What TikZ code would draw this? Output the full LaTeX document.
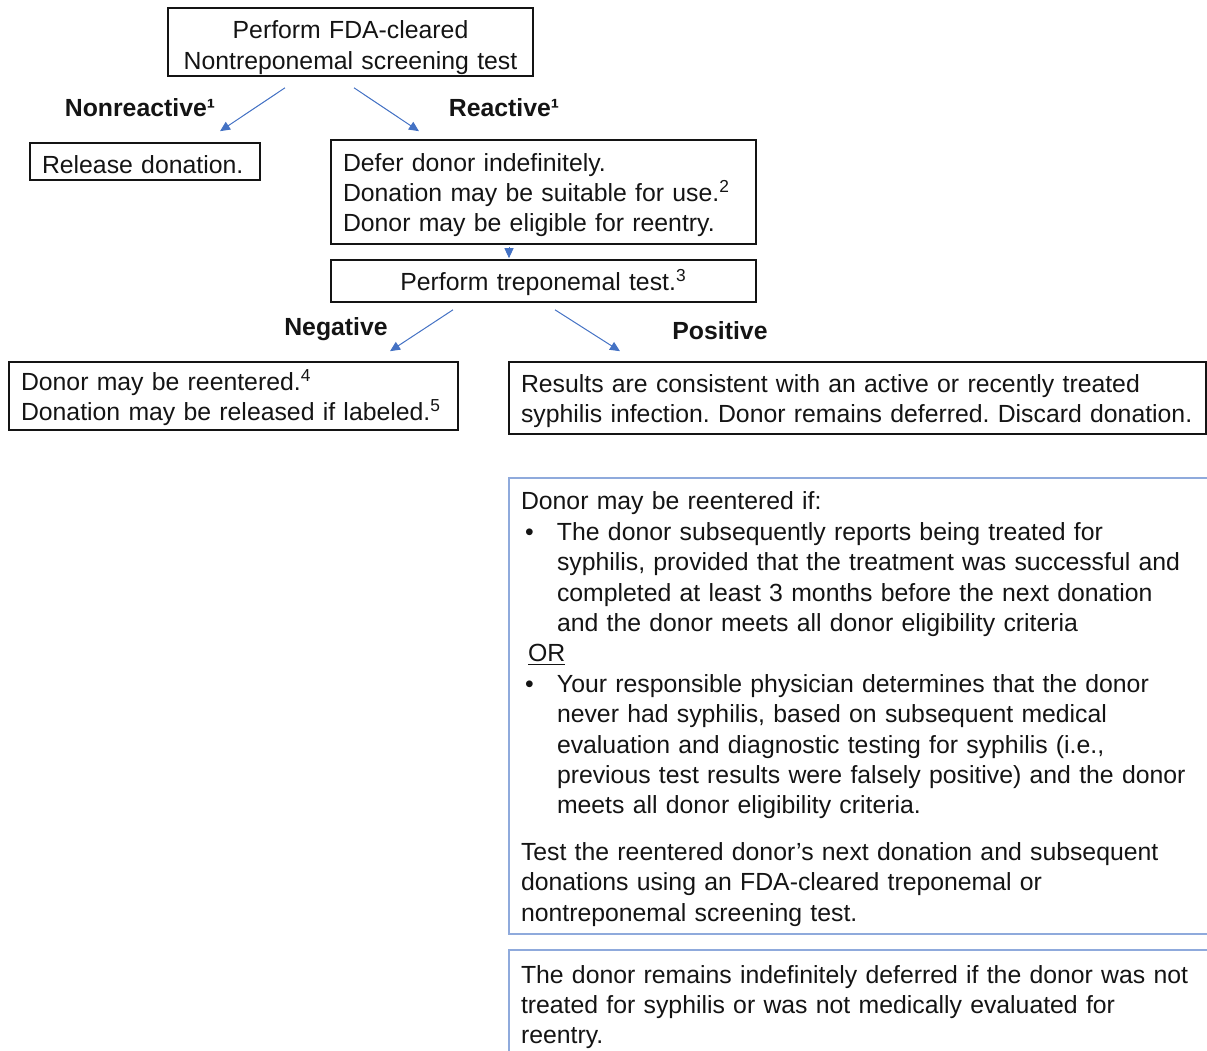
\documentclass[tikz,border=0pt]{standalone}
\usepackage{fontspec}
\setmainfont{Liberation Sans}
\usetikzlibrary{positioning}
\usetikzlibrary{calc}
\usetikzlibrary{arrows.meta}

\definecolor{arrowblue}{RGB}{68,114,196}
\definecolor{boxblue}{RGB}{143,170,220}
\definecolor{ink}{RGB}{20,20,20}

\frenchspacing
\newcommand{\bulletline}{\makebox[18pt][l]{\hspace{2pt}\textbullet}}
\newcommand{\indentline}{\hspace*{18pt}}
\newcommand{\toppad}{\rule{0pt}{12pt}}

\tikzset{
  box/.style={draw=ink, line width=0.8pt, inner xsep=6pt, inner ysep=0pt, text=ink,
    font=\fontsize{12.4}{15.2}\selectfont, execute at begin node=\toppad},
  notebox/.style={box, draw=boxblue, line width=0.75pt},
  branch/.style={text=ink, font=\fontsize{12.4}{15.2}\selectfont\bfseries},
  flow/.style={arrowblue, line width=0.5pt, -{Triangle[length=5pt,width=4.5pt]}},
}

\begin{document}
\begin{tikzpicture}[x=0.5pt,y=-0.5pt]
\useasboundingbox (0,0) rectangle (1207,1051);
\clip (0,0) rectangle (1207,1051);

% first test
\node[box, align=center, text width=170.5pt, minimum height=34pt,
  execute at begin node=\rule{0pt}{14.5pt}] (screen) at (350.5,42)
  {Perform FDA-cleared\\Nontreponemal screening test};
\node[box, align=left, text width=103pt, minimum height=18.5pt] (release) at (145,161.5)
  {Release donation.};
\node[box, align=left, text width=200.5pt, minimum height=52pt] (defer) at (543.5,192)
  {Defer donor indefinitely.\\Donation may be suitable for use.\textsuperscript{2}\\Donor may be eligible for reentry.};

% second test
\node[box, align=center, text width=200.5pt, minimum height=21pt] (trep) at (543.5,281)
  {Perform treponemal test.\textsuperscript{3}};
\node[box, align=left, text width=212.5pt, minimum height=34pt] (reenter) at (233.5,396)
  {Donor may be reentered.\textsuperscript{4}\\Donation may be released if labeled.\textsuperscript{5}};
\node[box, align=left, text width=336.5pt, minimum height=36pt] (results) at (857.5,398)
  {Results are consistent with an active or recently treated\\syphilis infection. Donor remains deferred. Discard donation.};

% notes
\node[notebox, align=left, text width=348.5pt, minimum height=228pt] (criteria) at (869.5,706)
  {Donor may be reentered if:\\
   \bulletline The donor subsequently reports being treated for\\
   \indentline syphilis, provided that the treatment was successful and\\
   \indentline completed at least 3 months before the next donation\\
   \indentline and the donor meets all donor eligibility criteria\\
   \hspace*{3.5pt}\underline{OR}\\
   \bulletline Your responsible physician determines that the donor\\
   \indentline never had syphilis, based on subsequent medical\\
   \indentline evaluation and diagnostic testing for syphilis (i.e.,\\
   \indentline previous test results were falsely positive) and the donor\\
   \indentline meets all donor eligibility criteria.\\[8pt]
   Test the reentered donor’s next donation and subsequent\\
   donations using an FDA-cleared treponemal or\\
   nontreponemal screening test.};
\node[notebox, align=left, text width=348.5pt, minimum height=54pt] (deferred) at (869.5,1004)
  {The donor remains indefinitely deferred if the donor was not\\
   treated for syphilis or was not medically evaluated for\\
   reentry.};

\node[branch] (nonreactive) at (140,108) {Nonreactive¹};
\node[branch] (reactive) at (504,108) {Reactive¹};
\node[branch] (negative) at (336,329) {Negative};
\node[branch] (positive) at (720,331) {Positive};

\draw[flow] ($(screen.south)+(-65.5,11)$) -- ($(release.north)+(75,-11)$);
\draw[flow] ($(screen.south)+(3.5,11)$) -- ($(defer.north)+(-124.5,-8)$);
\draw[flow] ($(defer.south)+(-34.5,2)$) -- ($(trep.north)+(-34.5,-1)$);
\draw[flow] ($(trep.south)+(-90.5,7)$) -- ($(reenter.north)+(156.5,-10)$);
\draw[flow] ($(trep.south)+(11.5,7)$) -- ($(results.north)+(-237.5,-10)$);
\end{tikzpicture}
\end{document}
